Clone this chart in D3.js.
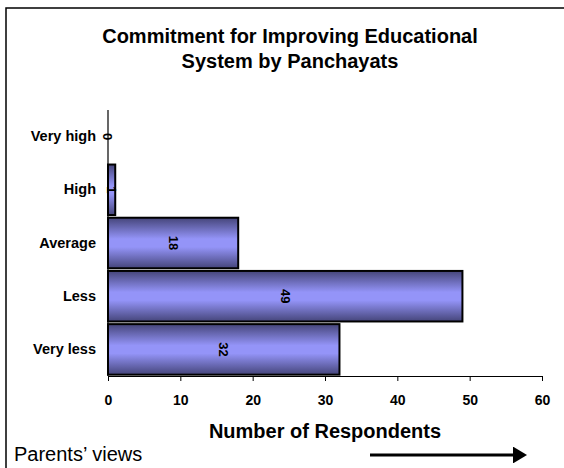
<!DOCTYPE html>
<html>
<head>
<meta charset="utf-8">
<script src="https://cdn.jsdelivr.net/npm/d3@7"></script>
<style>
  html, body { margin: 0; padding: 0; background: #fff; }
  svg { display: block; font-family: "Liberation Sans", Arial, sans-serif; }
</style>
</head>
<body>
<svg id="chart" width="564" height="468"></svg>
<script>
// Responses: commitment of Panchayats towards improving the educational system
const categories = ["Very high", "High", "Average", "Less", "Very less"];
const respondents = [0, 1, 18, 49, 32];
const xTicks = [0, 10, 20, 30, 40, 50, 60];
const titleLines = ["Commitment for Improving Educational", "System by Panchayats"];

const FONT = "Liberation Sans, Arial, sans-serif";
const svg = d3.select("#chart");

// outer frame (runs off the right and bottom edges)
svg.append("rect")
  .attr("x", 6).attr("y", 8)
  .attr("width", 600).attr("height", 500)
  .attr("fill", "none").attr("stroke", "#000").attr("stroke-width", 1.5);

// bar shading: dark at top and bottom, bright in the middle
const defs = svg.append("defs");
const grad = defs.append("linearGradient")
  .attr("id", "barShade").attr("x1", 0).attr("y1", 0).attr("x2", 0).attr("y2", 1);
[[0, "#45457a"], [0.42, "#9494f8"], [0.58, "#9494f8"], [1, "#45457a"]]
  .forEach(([o, c]) => grad.append("stop").attr("offset", o).attr("stop-color", c));

const x = d3.scaleLinear().domain([0, 60]).range([108, 542]);
const y = d3.scaleBand().domain(categories).range([110, 376])
  .paddingInner(0.05).paddingOuter(0.025);

// title
svg.append("g").selectAll("text")
  .data(titleLines)
  .join("text")
  .attr("x", 290)
  .attr("y", (d, i) => 43 + i * 25)
  .attr("text-anchor", "middle")
  .attr("font-size", 20).attr("font-weight", "bold")
  .text(d => d);

// bars
const data = categories.map((c, i) => ({ cat: c, val: respondents[i] }));
svg.append("g").selectAll("rect")
  .data(data.filter(d => d.val > 0))
  .join("rect")
  .attr("x", x(0))
  .attr("y", d => y(d.cat))
  .attr("width", d => x(d.val) - x(0))
  .attr("height", y.bandwidth())
  .attr("fill", "url(#barShade)")
  .attr("stroke", "#000").attr("stroke-width", 2);

// value labels, rotated to read downward
svg.append("g").selectAll("text")
  .data(data)
  .join("text")
  .attr("transform", d => `translate(${(x(0) + x(d.val)) / 2},${y(d.cat) + y.bandwidth() / 2}) rotate(90)`)
  .attr("text-anchor", "middle")
  .attr("dy", "0.35em")
  .attr("font-size", 13).attr("font-weight", "bold")
  .text(d => d.val);

// x axis
const xAxis = svg.append("g")
  .attr("transform", "translate(0,376)")
  .call(d3.axisBottom(x).tickValues(xTicks).tickSize(5).tickPadding(14).tickSizeOuter(0))
  .attr("font-family", FONT).attr("font-size", 14);
xAxis.select(".domain").attr("stroke", "#000").attr("stroke-width", 1.2);
xAxis.selectAll(".tick line").attr("stroke", "#000");
xAxis.selectAll(".tick text")
  .attr("font-weight", "bold").attr("fill", "#000");

// y axis
const yAxis = svg.append("g")
  .attr("transform", "translate(108,0)")
  .call(d3.axisLeft(y).tickSize(0).tickPadding(12).tickSizeOuter(0))
  .attr("font-family", FONT).attr("font-size", 14.5);
yAxis.select(".domain").attr("stroke", "#000").attr("stroke-width", 1.2)
  .attr("d", "M0,110V376");
yAxis.selectAll(".tick text")
  .attr("font-weight", "bold").attr("fill", "#000");

// axis title
svg.append("text")
  .attr("x", 325).attr("y", 438)
  .attr("text-anchor", "middle")
  .attr("font-size", 20).attr("font-weight", "bold")
  .text("Number of Respondents");

// direction arrow
defs.append("marker")
  .attr("id", "arrowHead")
  .attr("viewBox", "0 0 10 10")
  .attr("refX", 0).attr("refY", 5)
  .attr("markerWidth", 5).attr("markerHeight", 6)
  .attr("markerUnits", "strokeWidth")
  .attr("orient", "auto")
  .attr("preserveAspectRatio", "none")
  .append("path").attr("d", "M0,0L10,5L0,10Z").attr("fill", "#000");
svg.append("line")
  .attr("x1", 370).attr("y1", 455).attr("x2", 513).attr("y2", 455)
  .attr("stroke", "#000").attr("stroke-width", 2.8)
  .attr("marker-end", "url(#arrowHead)");

// footnote
svg.append("text")
  .attr("x", 14).attr("y", 461)
  .attr("font-size", 20)
  .text("Parents’ views");
</script>
</body>
</html>
